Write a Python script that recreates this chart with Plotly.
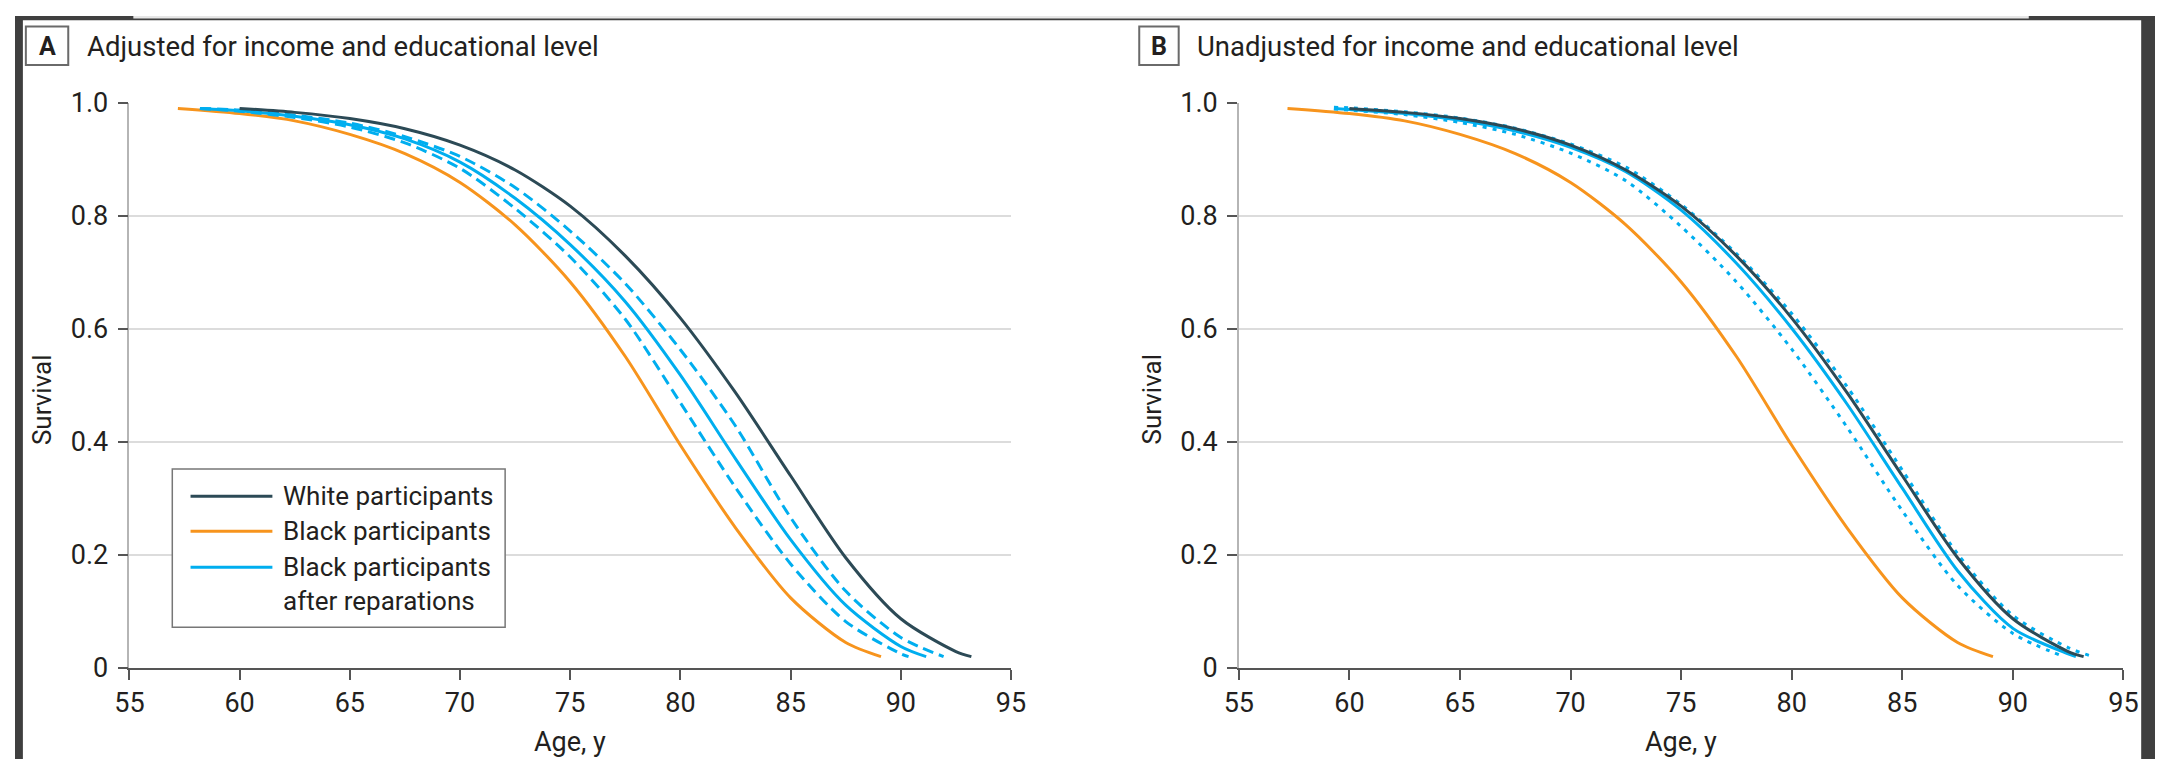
import plotly.graph_objects as go

W, H = 2170, 775

# ---------------- data ----------------
age_white = [60, 62.5, 65, 67.5, 70, 72.5, 75, 77.5, 80, 82.5, 85, 87.5, 90, 92.5, 93.2]
surv_white = [0.990, 0.983, 0.972, 0.954, 0.925, 0.881, 0.817, 0.729, 0.619, 0.487, 0.340, 0.195, 0.087, 0.029, 0.020]

age_black = [57.2, 60, 62.5, 65, 67.5, 70, 72.5, 75, 77.5, 80, 82.5, 85, 87.5, 89.1]
surv_black = [0.990, 0.981, 0.968, 0.944, 0.910, 0.859, 0.784, 0.683, 0.551, 0.394, 0.248, 0.124, 0.045, 0.020]

# Panel A: adjusted, black participants after reparations (estimate and CI)
age_rep_a = [58.2, 60, 62.5, 65, 67.5, 70, 72.5, 75, 77.5, 80, 82.5, 85, 87.5, 90, 91.15]
surv_rep_a = [0.990, 0.986, 0.976, 0.961, 0.936, 0.895, 0.831, 0.749, 0.648, 0.518, 0.370, 0.227, 0.111, 0.038, 0.020]
age_rep_a_hi = [58.2, 60, 62.5, 65, 67.5, 70, 72.5, 75, 77.5, 80, 82.5, 85, 87.5, 90, 91.94]
surv_rep_a_hi = [0.990, 0.987, 0.978, 0.964, 0.940, 0.905, 0.850, 0.773, 0.680, 0.563, 0.428, 0.266, 0.136, 0.054, 0.020]
age_rep_a_lo = [58.2, 60, 62.5, 65, 67.5, 70, 72.5, 75, 77.5, 80, 82.5, 85, 87.5, 90, 90.35]
surv_rep_a_lo = [0.990, 0.985, 0.974, 0.957, 0.929, 0.884, 0.813, 0.727, 0.617, 0.469, 0.319, 0.184, 0.082, 0.025, 0.020]

# Panel B: unadjusted
age_rep_b = [59.3, 60, 62.5, 65, 67.5, 70, 72.5, 75, 77.5, 80, 82.5, 85, 87.5, 90, 92.5, 92.85]
surv_rep_b = [0.990, 0.988, 0.981, 0.969, 0.950, 0.921, 0.878, 0.810, 0.716, 0.601, 0.467, 0.318, 0.172, 0.070, 0.025, 0.020]
age_rep_b_hi = [59.3, 60, 62.5, 65, 67.5, 70, 72.5, 75, 77.5, 80, 82.5, 85, 87.5, 90, 92.5, 93.6]
surv_rep_b_hi = [0.992, 0.991, 0.984, 0.973, 0.955, 0.927, 0.886, 0.820, 0.733, 0.627, 0.498, 0.350, 0.202, 0.093, 0.036, 0.020]
age_rep_b_lo = [59.3, 60, 62.5, 65, 67.5, 70, 72.5, 75, 77.5, 80, 82.5, 85, 87.5, 90, 92.3]
surv_rep_b_lo = [0.989, 0.987, 0.979, 0.965, 0.944, 0.911, 0.862, 0.781, 0.683, 0.564, 0.426, 0.278, 0.146, 0.061, 0.020]

x_ticks = [55, 60, 65, 70, 75, 80, 85, 90, 95]
y_ticks = [0, 0.2, 0.4, 0.6, 0.8, 1.0]
y_ticktext = ["0", "0.2", "0.4", "0.6", "0.8", "1.0"]

panel_titles = ["Adjusted for income and educational level",
                "Unadjusted for income and educational level"]
panel_letters = ["A", "B"]
legend_labels = ["White participants", "Black participants",
                 "Black participants<br>after reparations"]

# ---------------- style ----------------
C_WHITE = "#2c4a56"
C_BLACK = "#f7941d"
C_REP = "#00aeef"
TXT = "#231f20"
FONT = "Roboto, Liberation Sans, Arial, sans-serif"
LW = 3


def px(x):
    return x / W


def py(y):
    return 1 - y / H


fig = go.Figure()


def add_line(x, y, color, xa, ya, dash="solid", name=None):
    fig.add_trace(go.Scatter(
        x=x, y=y, mode="lines", xaxis=xa, yaxis=ya, name=name,
        line=dict(color=color, width=LW, dash=dash, shape="spline", smoothing=0.8),
        showlegend=False, hoverinfo="x+y"))


# Panel A
add_line(age_black, surv_black, C_BLACK, "x", "y", name="Black participants")
add_line(age_rep_a_lo, surv_rep_a_lo, C_REP, "x", "y", dash="11px,6px", name="After reparations (lower)")
add_line(age_rep_a_hi, surv_rep_a_hi, C_REP, "x", "y", dash="11px,6px", name="After reparations (upper)")
add_line(age_rep_a, surv_rep_a, C_REP, "x", "y", name="Black participants after reparations")
add_line(age_white, surv_white, C_WHITE, "x", "y", name="White participants")

# Panel B
add_line(age_black, surv_black, C_BLACK, "x2", "y2", name="Black participants")
add_line(age_rep_b_lo, surv_rep_b_lo, C_REP, "x2", "y2", dash="4px,6px", name="After reparations (lower)")
add_line(age_rep_b_hi, surv_rep_b_hi, C_REP, "x2", "y2", dash="4px,6px", name="After reparations (upper)")
add_line(age_rep_b, surv_rep_b, C_REP, "x2", "y2", name="Black participants after reparations")
add_line(age_white, surv_white, C_WHITE, "x2", "y2", name="White participants")

y_dom = [py(680), py(90.5)]
xa_common = dict(range=[55, 95], tickvals=x_ticks, showline=True, linecolor="#555555",
                 linewidth=2, ticks="outside", ticklen=10, tickwidth=2, tickcolor="#555555",
                 showgrid=False, zeroline=False, tickfont=dict(size=27, color=TXT, family=FONT),
                 fixedrange=True)
ya_common = dict(range=[0, 1], tickvals=y_ticks, ticktext=y_ticktext, showline=True,
                 linecolor="#b5b5b5", linewidth=1.5, ticks="outside", ticklen=10, tickwidth=2,
                 tickcolor="#555555", showgrid=True, gridcolor="#dcdcdc", gridwidth=2,
                 zeroline=False, tickfont=dict(size=27, color=TXT, family=FONT),
                 ticklabelstandoff=4, fixedrange=True)

fig.update_layout(
    width=W, height=H, margin=dict(l=0, r=0, t=0, b=0),
    paper_bgcolor="white", plot_bgcolor="white",
    font=dict(family=FONT, color=TXT),
    xaxis=dict(domain=[px(116), px(1010)], anchor="y", **xa_common),
    yaxis=dict(domain=y_dom, anchor="x", **ya_common),
    xaxis2=dict(domain=[px(1241), px(2138)], anchor="y2", **xa_common),
    yaxis2=dict(domain=y_dom, anchor="x2", **ya_common),
    showlegend=False,
)

shapes = []
annotations = []

# outer dark frame
shapes += [
    dict(type="rect", xref="paper", yref="paper", x0=0, x1=px(8), y0=0, y1=1,
         fillcolor="#3f3f3f", line=dict(width=0), layer="above"),
    dict(type="rect", xref="paper", yref="paper", x0=px(2156), x1=1, y0=0, y1=1,
         fillcolor="#3f3f3f", line=dict(width=0), layer="above"),
    dict(type="rect", xref="paper", yref="paper", x0=0, x1=1, y0=py(4.5), y1=1,
         fillcolor="#3f3f3f", line=dict(width=0), layer="above"),
    dict(type="rect", xref="paper", yref="paper", x0=px(120), x1=px(2042), y0=py(2.7), y1=1,
         fillcolor="#e6e6e6", line=dict(width=0), layer="above"),
]

# panel title boxes and titles
for letter, title, bx0, bx1, tx, ax_c in [
        ("A", panel_titles[0], 11, 54, 71, 563),
        ("B", panel_titles[1], 1140, 1180, 1197, 1689.5)]:
    shapes.append(dict(type="rect", xref="paper", yref="paper",
                       x0=px(bx0), x1=px(bx1), y0=py(51), y1=py(11),
                       line=dict(color="#6a6a6a", width=2), fillcolor="white"))
    annotations.append(dict(xref="paper", yref="paper", x=px((bx0 + bx1) / 2), y=py(31.5),
                            text="<b>%s</b>" % letter, showarrow=False,
                            xanchor="center", yanchor="middle",
                            font=dict(size=25, color=TXT, family=FONT)))
    annotations.append(dict(xref="paper", yref="paper", x=px(tx), y=py(31.5),
                            text=title, showarrow=False, xanchor="left", yanchor="middle",
                            font=dict(size=27.5, color=TXT, family=FONT)))
    # axis titles
    annotations.append(dict(xref="paper", yref="paper", x=px(ax_c), y=py(757),
                            text="Age, y", showarrow=False, xanchor="center", yanchor="middle",
                            font=dict(size=27, color=TXT, family=FONT)))

for sx in [28, 1153]:
    annotations.append(dict(xref="paper", yref="paper", x=px(sx), y=py(400),
                            text="Survival", showarrow=False, textangle=-90,
                            xanchor="center", yanchor="middle",
                            font=dict(size=26, color=TXT, family=FONT)))

# legend (panel A)
shapes.append(dict(type="rect", xref="paper", yref="paper",
                   x0=px(159.5), x1=px(497), y0=py(637.5), y1=py(472.5),
                   line=dict(color="#777777", width=1.5), fillcolor="white", layer="above"))
leg_items = [(legend_labels[0], C_WHITE, 501, 501),
             (legend_labels[1], C_BLACK, 537.5, 537.5),
             (legend_labels[2], C_REP, 575, 592)]
for label, col, ly, ty in leg_items:
    shapes.append(dict(type="line", xref="paper", yref="paper",
                       x0=px(178), x1=px(261), y0=py(ly), y1=py(ly),
                       line=dict(color=col, width=LW), layer="above"))
    annotations.append(dict(xref="paper", yref="paper", x=px(270), y=py(ty),
                            text=label, showarrow=False, xanchor="left", yanchor="middle",
                            align="left", font=dict(size=26, color=TXT, family=FONT)))

fig.update_layout(shapes=shapes, annotations=annotations)

post_js = """
var de = document.documentElement, bd = document.body;
[de, bd].forEach(function(el){ el.style.margin='0'; el.style.padding='0'; el.style.overflow='hidden'; });
"""

fig.write_html("out.html", post_script=post_js, config={"displayModeBar": False})
